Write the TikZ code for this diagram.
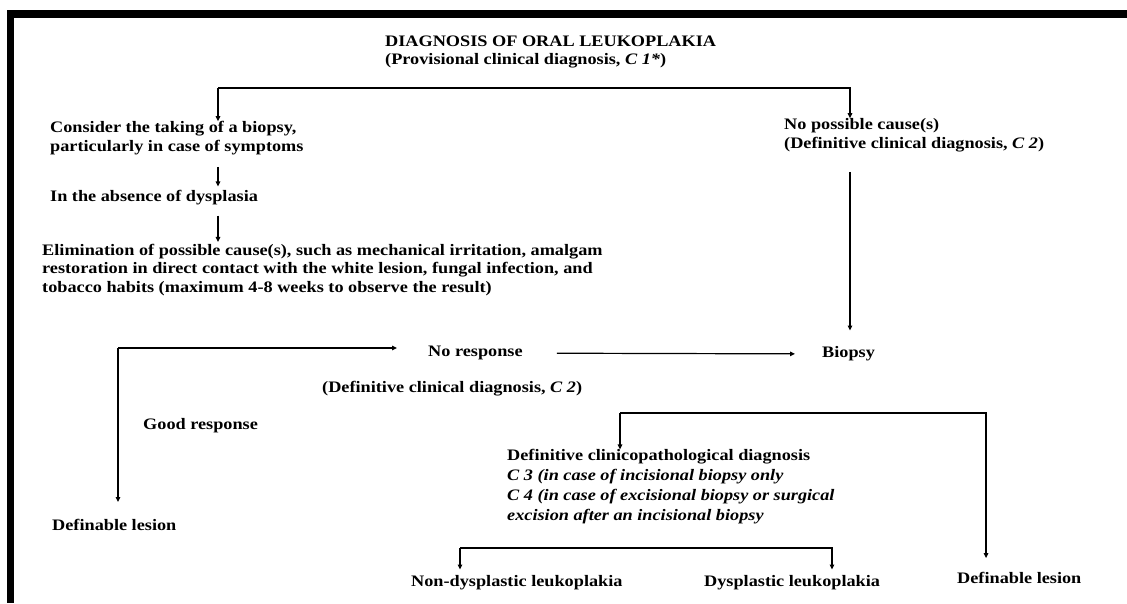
\documentclass[tikz,border=0pt]{standalone}
\usepackage{fontspec}
\setmainfont[FakeStretch=1.14]{Liberation Serif}
\usetikzlibrary{arrows.meta,positioning,calc}

\begin{document}
\begin{tikzpicture}[x=1pt,y=-1pt,
    txt/.style={anchor=west,inner sep=0pt,align=left,font=\fontsize{16}{18.5}\selectfont\bfseries},
    arr/.style={-{Triangle[length=5pt,width=4.5pt]},line width=1.2pt},
    frame/.style={fill=black},
]
\useasboundingbox (0,0) rectangle (1127,603);

% Frame
\fill[frame] (7,10) rectangle (1127,18);
\fill[frame] (7,10) rectangle (14,603);

% Top
\node[txt] (diag) at (385,52) {DIAGNOSIS OF ORAL LEUKOPLAKIA\\(Provisional clinical diagnosis, \textit{C 1*})};

% Left column
\node[txt] (cons) at (50,138) {Consider the taking of a biopsy,\\particularly in case of symptoms};
\node[txt] (absence) at (50,198) {In the absence of dysplasia};
\node[txt] (elim) at (42,270) {Elimination of possible cause(s), such as mechanical irritation, amalgam\\restoration in direct contact with the white lesion, fungal infection, and\\tobacco habits (maximum 4-8 weeks to observe the result)};

% Right column
\node[txt] (nocause) at (784,135) {No possible cause(s)\\(Definitive clinical diagnosis, \textit{C 2})};
\node[txt] (biopsy) at (822,354) {Biopsy};

% Middle row
\node[txt] (noresp) at (428,353) {No response};
\node[txt] (defc2) at (322,389) {(Definitive clinical diagnosis, \textit{C 2})};
\node[txt] (good) at (143,426) {Good response};
\node[txt,font=\fontsize{16}{20}\selectfont\bfseries] (clinpath) at (507,487) {Definitive clinicopathological diagnosis\\\textit{C 3 (in case of incisional biopsy only}\\\textit{C 4 (in case of excisional biopsy or surgical}\\\textit{excision after an incisional biopsy}};

% Bottom row
\node[txt] (deflesL) at (52,525) {Definable lesion};
\node[txt] (nondys) at (411,583) {Non-dysplastic leukoplakia};
\node[txt] (dys) at (704,583) {Dysplastic leukoplakia};
\node[txt] (deflesR) at (957,578) {Definable lesion};

% Junctions
\coordinate (topL) at (218,88);
\coordinate (topR) at (850,88);
\coordinate (gcorner) at (118,348);
\coordinate (midL) at (620,413);
\coordinate (midR) at (986,413);
\coordinate (botL) at (460,548);
\coordinate (botR) at (832,548);

% Arrows
\draw[arr] (topL) -- (topL |- cons.north);
\draw[arr] (topL) -- (topR) -- (topR |- nocause.north);
\draw[arr,shorten <=12pt,shorten >=4pt] (cons.south -| topL) -- (absence.north -| topL);
\draw[arr,shorten <=10pt,shorten >=2pt] (absence.south -| topL) -- (elim.north -| topL);
\draw[arr,shorten <=20pt,shorten >=16pt] (nocause.south -| topR) -- (biopsy.north -| topR);
\draw[arr,shorten >=31pt] (gcorner) -- (gcorner -| noresp.west);
\draw[arr,shorten >=17pt] (gcorner) -- (gcorner |- deflesL.north);
\draw[arr,shorten <=34pt,shorten >=27pt] (noresp) -- (biopsy);
\draw[arr] (midL) -- (midL |- clinpath.north);
\draw[arr] (midL) -- (midR) -- ([yshift=14pt]midR |- deflesR.north);
\draw[arr] (botL) -- ([yshift=6pt]botL |- nondys.north);
\draw[arr] (botL) -- (botR) -- ([yshift=6pt]botR |- dys.north);
\end{tikzpicture}
\end{document}
